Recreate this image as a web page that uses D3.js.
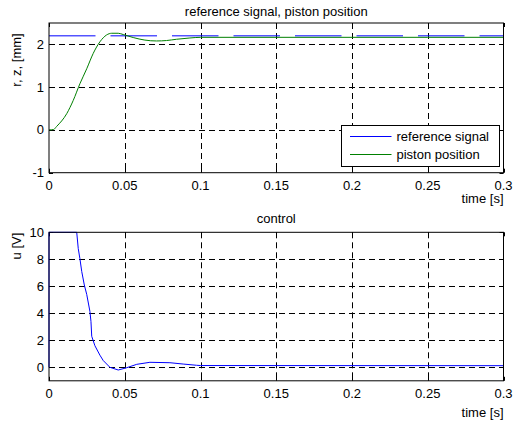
<!DOCTYPE html>
<html>
  <head>
    <style>
    body {
      margin: 0;
      background: #fff;
      font-family: "Liberation Sans", Arial, Helvetica, sans-serif;
    }
    text { font-size: 13px; fill: #000; }
    </style>
  </head>
  <body>
    <script src="https://d3js.org/d3.v7.min.js"></script>
    <script>
    // reference signal and piston position (top plot)
    var refTime = [0, 0.3];
    var refValue = [2.2, 2.2];

    var posTime = [0, 0.003, 0.005, 0.0117, 0.016, 0.0204, 0.0249, 0.0292, 0.0336, 0.038, 0.0414,
                   0.0457, 0.049, 0.0556, 0.0633, 0.071, 0.0776, 0.0842, 0.093, 0.1, 0.15, 0.2, 0.25, 0.3];
    var posValue = [0, 0.01, 0.08, 0.38, 0.69, 1.08, 1.43, 1.79, 2.06, 2.22, 2.26,
                    2.26, 2.23, 2.16, 2.1, 2.08, 2.09, 2.12, 2.15, 2.165, 2.165, 2.165, 2.165, 2.165];

    // control signal (bottom plot)
    var ctrlTime = [0, 0, 0.0183, 0.0193, 0.0204, 0.0216, 0.0233, 0.0249, 0.027, 0.0277, 0.0282,
                    0.0303, 0.0336, 0.0358, 0.0402, 0.0457, 0.0513, 0.0579, 0.0666, 0.0798, 0.0886,
                    0.0974, 0.1, 0.3];
    var ctrlValue = [0, 10, 10, 8.8, 8.05, 7.1, 6.1, 5.4, 4.15, 3.4, 2.3,
                     1.6, 0.9, 0.5, 0.0, -0.2, -0.03, 0.22, 0.37, 0.34, 0.24,
                     0.15, 0.13, 0.12];

    var xTicks = [0, 0.05, 0.1, 0.15, 0.2, 0.25, 0.3];
    var topTicks = [-1, 0, 1, 2];
    var bottomTicks = [0, 2, 4, 6, 8, 10];
    var legendLabels = ["reference signal", "piston position"];

    var width = 513, height = 421;
    var left = 49, right = 503.5;

    var svg = d3.select("body").append("svg")
        .attr("width", width)
        .attr("height", height);

    var x = d3.scaleLinear().domain([0, 0.3]).range([left, right]);

    function zip(t, v) { return t.map(function(d, i) { return [d, v[i]]; }); }

    function drawAxes(y, yTicks, gridTicks, opts) {
      var g = svg.append("g");
      var y0 = y.range()[0], y1 = y.range()[1];

      // grid
      g.selectAll(".vgrid").data(xTicks.slice(1, -1)).enter().append("line")
          .attr("x1", function(d) { return Math.round(x(d)) + 0.5; })
          .attr("x2", function(d) { return Math.round(x(d)) + 0.5; })
          .attr("y1", y1).attr("y2", y0)
          .attr("stroke", "#000").attr("stroke-dasharray", "6,4");
      g.selectAll(".hgrid").data(gridTicks).enter().append("line")
          .attr("y1", function(d) { return Math.round(y(d)) + 0.5; })
          .attr("y2", function(d) { return Math.round(y(d)) + 0.5; })
          .attr("x1", left).attr("x2", right)
          .attr("stroke", "#000").attr("stroke-dasharray", "6,4");

      // ticks on every side, pointing inward
      var tl = 4;
      g.selectAll(".xt").data(xTicks).enter().append("path")
          .attr("d", function(d) {
            var px = Math.round(x(d)) + 0.5;
            return "M" + px + "," + y0 + "v" + (-tl) + "M" + px + "," + y1 + "v" + tl;
          })
          .attr("stroke", "#000");
      g.selectAll(".yt").data(yTicks).enter().append("path")
          .attr("d", function(d) {
            var py = Math.round(y(d)) + 0.5;
            return "M" + left + "," + py + "h" + tl + "M" + right + "," + py + "h" + (-tl);
          })
          .attr("stroke", "#000");

      g.selectAll(".xl").data(xTicks).enter().append("text")
          .attr("x", function(d) { return x(d); })
          .attr("y", y0 + 17)
          .attr("text-anchor", "middle")
          .text(function(d) { return d; });
      g.selectAll(".yl").data(yTicks).enter().append("text")
          .attr("x", left - 5)
          .attr("y", function(d) { return y(d) + 4.5; })
          .attr("text-anchor", "end")
          .text(function(d) { return d; });

      g.append("text")
          .attr("x", right)
          .attr("y", y0 + opts.xlabelOffset)
          .attr("text-anchor", "end")
          .text("time [s]");
      g.append("text")
          .attr("x", (left + right) / 2)
          .attr("y", y1 - opts.titleOffset)
          .attr("text-anchor", "middle")
          .text(opts.title);
      g.append("text")
          .attr("transform", "translate(21," + opts.ylabelY + ") rotate(-90)")
          .attr("text-anchor", "middle")
          .text(opts.ylabel);
      return g;
    }

    function frame(y) {
      svg.append("rect")
          .attr("x", left).attr("y", y.range()[1])
          .attr("width", right - left).attr("height", y.range()[0] - y.range()[1])
          .attr("fill", "none").attr("stroke", "#000");
    }

    // top plot
    var yTop = d3.scaleLinear().domain([-1, 2.5]).range([172.7, 23]);
    drawAxes(yTop, topTicks, [0, 1, 2], {
      title: "reference signal, piston position",
      ylabel: "r, z, [mm]",
      ylabelY: 60,
      xlabelOffset: 30,
      titleOffset: 7
    });

    var line = d3.line()
        .x(function(d) { return x(d[0]); });

    svg.append("path")
        .datum(zip(refTime, refValue))
        .attr("d", line.y(function(d) { return yTop(d[1]); }).curve(d3.curveLinear))
        .attr("fill", "none")
        .attr("stroke", "#0000ff")
        .attr("stroke-dasharray", "46.5,15");

    svg.append("path")
        .datum(zip(posTime, posValue))
        .attr("d", line.y(function(d) { return yTop(d[1]); }).curve(d3.curveMonotoneX))
        .attr("fill", "none")
        .attr("stroke", "#008000");

    frame(yTop);

    // legend
    var lg = svg.append("g").attr("transform", "translate(341.5,125.5)");
    lg.append("rect").attr("width", 158).attr("height", 41)
        .attr("fill", "#fff").attr("stroke", "#000");
    var legendColors = ["#0000ff", "#008000"];
    legendLabels.forEach(function(d, i) {
      var ly = 11 + i * 18;
      lg.append("line").attr("x1", 8.5).attr("x2", 50).attr("y1", ly).attr("y2", ly)
          .attr("stroke", legendColors[i]);
      lg.append("text").attr("x", 55).attr("y", ly + 4.5).text(d);
    });

    // bottom plot
    var yBot = d3.scaleLinear().domain([-1, 10]).range([380.8, 232.3]);
    drawAxes(yBot, bottomTicks, [0, 2, 4, 6, 8], {
      title: "control",
      ylabel: "u [V]",
      ylabelY: 246,
      xlabelOffset: 36,
      titleOffset: 9
    });

    svg.append("path")
        .datum(zip(ctrlTime, ctrlValue))
        .attr("d", line.y(function(d) { return yBot(d[1]); }).curve(d3.curveLinear))
        .attr("fill", "none")
        .attr("stroke", "#0000ff");

    frame(yBot);
    </script>
  </body>
</html>
